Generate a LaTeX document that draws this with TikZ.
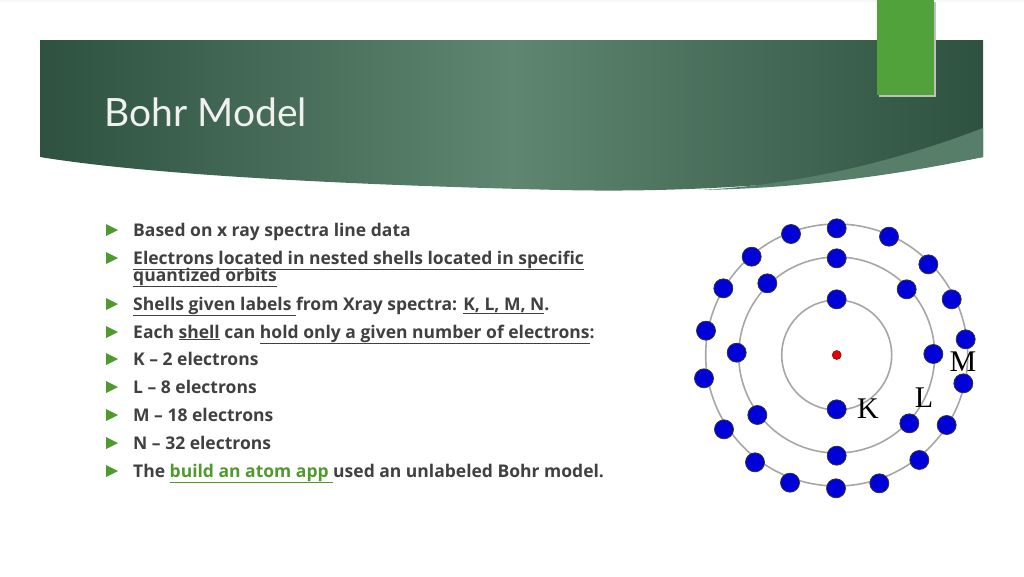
\documentclass[tikz,border=0pt]{standalone}
\usepackage{fontspec}
\setmainfont{Open Sans}
\newfontfamily\titlefont{Lato}
\newfontfamily\serfont{Liberation Serif}
\newcommand\myul[1]{\underline{#1}}
\definecolor{bandedge}{HTML}{2E5140}
\definecolor{bandmid}{HTML}{5E8670}
\definecolor{tab}{HTML}{52A23C}
\definecolor{bul}{HTML}{4E9A2C}
\begin{document}
\begin{tikzpicture}[x=1pt,y=-1pt,
  elec/.style={circle,fill=blue!85!black,draw=black!80,line width=0.8pt,minimum size=19pt,inner sep=0pt},
  orbit/.style={draw=gray!70,line width=1.6pt},
  txt/.style={anchor=base west,font=\fontsize{17.5}{18}\selectfont\bfseries,text=black!75,inner sep=0pt},
  shl/.style={font=\fontsize{30}{30}\selectfont\serfont,inner sep=0pt}]
\useasboundingbox (0,0) rectangle (1024,576);
\fill[gray!6] (0,0) rectangle (1024,2);
% band
\shade[left color=bandedge, right color=bandedge, middle color=bandmid]
 (40,40) -- (983,40) -- (983,157) .. controls (800,190) and (650,192) .. (560,190) .. controls (350,185) and (150,175) .. (40,157) -- cycle;
\fill[bandmid!85!bandedge] (983,128) .. controls (900,160) and (800,185) .. (700,190) .. controls (820,188) and (920,170) .. (983,157) -- cycle;
\fill[black!25] (879,2) rectangle (936,97);
\fill[tab] (877,0) rectangle (934,95);
\node[anchor=base west,text=white!88!gray,font=\titlefont\fontsize{39}{39}\selectfont] (title) at (101,126) {Bohr Model};
% bullets
\foreach \y in {230,258,304,332,359,387,415,443,471}
  \fill[bul] (106,\y-6) -- (118,\y) -- (106,\y+6) -- cycle;
\node[txt] (t1) at (133,236) {Based on x ray spectra line data};
\node[txt] (t2) at (133,264) {\myul{Electrons located in nested shells located in specific}};
\node[txt] (t2b) at (133,281) {\myul{quantized orbits}};
\node[txt] (t3) at (133,310) {\myul{Shells given labels }from Xray spectra: \myul{K, L, M, N}.};
\node[txt] (t4) at (133,338) {Each \myul{shell} can \myul{hold only a given number of electrons}:};
\node[txt] (t5) at (133,365) {K -- 2 electrons};
\node[txt] (t6) at (133,393) {L -- 8 electrons};
\node[txt] (t7) at (133,421) {M -- 18 electrons};
\node[txt] (t8) at (133,449) {N -- 32 electrons};
\node[txt] (t9) at (133,477) {The {\color{bul}\myul{build an atom app }}used an unlabeled Bohr model.};
% atom
\coordinate (c) at (836.7,355);
\draw[orbit] (c) circle (55);
\draw[orbit] (c) circle (98);
\draw[orbit] (c) circle (131);
\fill[red!90!black] (c) circle (4.5);
\draw[red!50!black,line width=0.5pt] (c) circle (4.5);
\foreach \x/\y [count=\i] in {470/55,627/80,745/163,815/268,857/388,850/520,800/645,718/750,598/820,468/835,330/818,225/757,132/658,72/505,78/362,130/235,215/140,333/72,470/145,680/238,760/432,688/640,470/737,232/615,170/428,262/220,470/268,470/598}
  \node[elec] (e\i) at ({\x/3+680},{\y/3+210}) {};
\node[shl] (K) at (868,409) {K};
\node[shl] (L) at (924,398) {L};
\node[shl] (M) at (963,362) {M};
\end{tikzpicture}
\end{document}
